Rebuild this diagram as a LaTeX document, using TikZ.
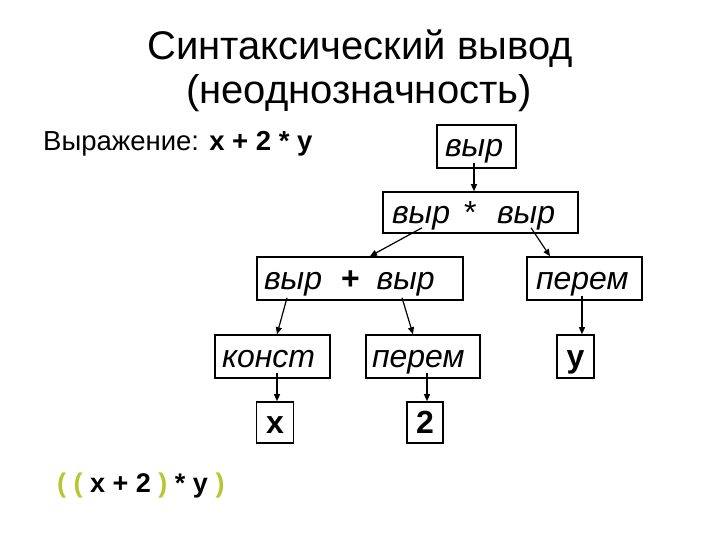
\documentclass[tikz,border=0pt]{standalone}
\usepackage{fontspec}
\setmainfont{Liberation Sans}
\usetikzlibrary{arrows.meta}
\definecolor{pargreen}{RGB}{180,200,50}
\newcommand\bxt[3]{\makebox[#1][l]{\hspace*{#2}#3}}
\begin{document}
\begin{tikzpicture}[x=1pt,y=-1pt,
  box/.style={draw, line width=1.6pt, inner sep=0pt, text height=21pt, text depth=0pt,
    font=\fontsize{32}{32}\selectfont\itshape},
  arr/.style={line width=1.2pt, -{Triangle[length=7pt,width=6pt]}}]
\fill[white] (0,0) rectangle (720,540);
\useasboundingbox (0,0) rectangle (720,540);
% title
\node[anchor=base, inner sep=0pt, font=\fontsize{40}{40}\selectfont] (t1) at (360,60) {Синтаксический вывод};
\node[anchor=base, inner sep=0pt, font=\fontsize{40}{40}\selectfont] (t2) at (359,104) {(неоднозначность)};
\node[anchor=base west, inner sep=0pt, font=\fontsize{27.5}{27.5}\selectfont] (expr) at (43,151) {Выражение: \textbf{x + 2 * y}};
% boxes
\node[box, minimum height=43pt] (v1) at (476.5,146.5) {\bxt{79pt}{8pt}{выр}};
\node[box, minimum height=41pt] (v2) at (480.5,212.5) {\bxt{195pt}{9pt}{выр\hspace{14pt}{\upshape *}\hspace{20.5pt}выр}};
\node[box, minimum height=43pt] (v3) at (360,278.5) {\bxt{206pt}{7pt}{выр\hspace{19pt}{\upshape\bfseries +}\hspace{17pt}выр}};
\node[box, minimum height=43pt] (p1) at (584.5,278.5) {\bxt{115pt}{9pt}{перем}};
\node[box, minimum height=43pt] (k) at (272.5,356.5) {\bxt{115pt}{7pt}{конст}};
\node[box, minimum height=43pt] (p2) at (423,356.5) {\bxt{114pt}{6pt}{перем}};
\node[box, minimum height=43pt] (y) at (575.5,356.5) {\makebox[37pt][c]{\upshape\bfseries y}};
\node[box, minimum height=41pt] (x) at (275,422.5) {\makebox[37pt][c]{\upshape\bfseries x}};
\node[box, minimum height=41pt] (two) at (425,422.5) {\makebox[36pt][c]{\upshape\bfseries 2}};
% arrows
\draw[arr] ([xshift=-2.5pt,yshift=6pt]v1.south) -- ([xshift=-6.5pt]v2.north);
\draw[arr] ([xshift=-58.5pt,yshift=6pt]v2.south) -- ([xshift=10pt]v3.north);
\draw[arr] ([xshift=50.5pt,yshift=6pt]v2.south) -- ([xshift=-34.5pt]p1.north);
\draw[arr] ([xshift=-73pt,yshift=3pt]v3.south) -- ([xshift=4.5pt]k.north);
\draw[arr] ([xshift=42pt,yshift=3pt]v3.south) -- ([xshift=-10pt]p2.north);
\draw[arr] ([xshift=4.5pt,yshift=6pt]k.south) -- ([xshift=2pt]x.north);
\draw[arr] ([xshift=4pt,yshift=6pt]p2.south) -- ([xshift=2pt]two.north);
\draw[arr] ([xshift=-2.5pt,yshift=5pt]p1.south) -- ([xshift=6.5pt]y.north);
% bottom
\node[anchor=base west, inner sep=0pt, font=\fontsize{27}{27}\selectfont\bfseries] (paren) at (57,492)
  {\textcolor{pargreen}{(} \textcolor{pargreen}{(} x + 2 \textcolor{pargreen}{)} * y \textcolor{pargreen}{)}};
\end{tikzpicture}
\end{document}
